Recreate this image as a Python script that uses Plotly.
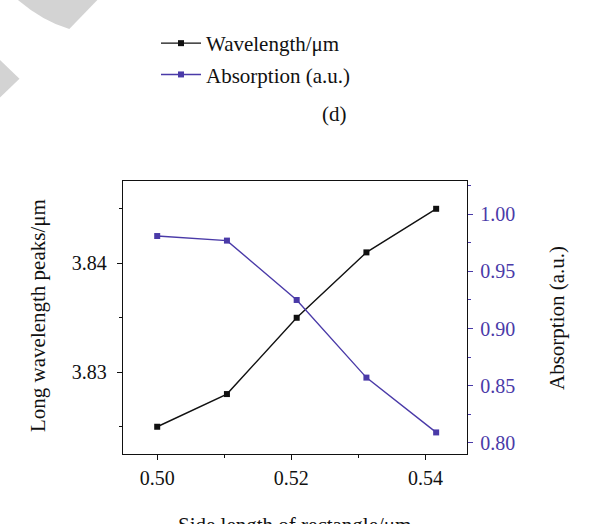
import plotly.graph_objects as go

# Side length of the rectangle (um)
side_length = [0.500, 0.5104, 0.5208, 0.5312, 0.5416]
# Long-wavelength resonance peak (um)
wavelength = [3.825, 3.828, 3.835, 3.841, 3.845]
# Absorption at the peak (a.u.)
absorption = [0.981, 0.977, 0.925, 0.857, 0.809]

W, H = 609, 524
ML, MR, MT, MB = 123, 142, 181, 70
PW, PH = W - ML - MR, H - MT - MB

FONT = "Liberation Serif"
BLACK = "#111111"
PURPLE = "#4a3aa8"


def px(x, y):
    """Pixel position on the page -> paper coordinates."""
    return (x - ML) / PW, (H - MB - y) / PH


def path(points):
    out = []
    for i, (x, y) in enumerate(points):
        u, v = px(x, y)
        out.append(("M" if i == 0 else "L") + f"{u:.4f},{v:.4f}")
    return " ".join(out) + " Z"


fig = go.Figure()

fig.add_trace(go.Scatter(
    x=side_length, y=wavelength, name="Wavelength/\u03bcm",
    mode="lines+markers", legendgroup="a",
    line=dict(color=BLACK, width=1.4),
    marker=dict(symbol="square", size=6, color=BLACK),
))
fig.add_trace(go.Scatter(
    x=side_length, y=absorption, name="Absorption (a.u.)",
    mode="lines+markers", legendgroup="b", yaxis="y2",
    line=dict(color=PURPLE, width=1.4),
    marker=dict(symbol="square", size=6, color=PURPLE),
))

# light grey corner decoration
u0, v0 = px(16.7, -1)
uc, vc = px(43, 21.5)
u1, v1 = px(69.3, 29)
u2, v2 = px(98.3, -1)
corner_a = (f"M{u0:.4f},{v0:.4f} Q{uc:.4f},{vc:.4f} {u1:.4f},{v1:.4f} "
            f"L{u2:.4f},{v2:.4f} Z")
corner_b = path([(-1, 59), (19.5, 78.7), (-1, 98.5)])
for p in (corner_a, corner_b):
    fig.add_shape(type="path", path=p, xref="paper", yref="paper",
                  fillcolor="#d3d3d3", line=dict(width=0), layer="below")

lx, ly = px(156, 23)
fig.update_layout(
    template="none",
    width=W, height=H,
    margin=dict(l=ML, r=MR, t=MT, b=MB, autoexpand=False),
    paper_bgcolor="white", plot_bgcolor="white",
    font=dict(family=FONT, size=20, color=BLACK),
    showlegend=True,
    legend=dict(x=lx, y=ly, xanchor="left", yanchor="top",
                bgcolor="rgba(0,0,0,0)", font=dict(size=21, color=BLACK),
                tracegroupgap=1, itemwidth=40),
    xaxis=dict(
        automargin=False,
        range=[0.4949, 0.5462], tickmode="linear", tick0=0.5, dtick=0.02,
        tickformat=".2f", showgrid=False, zeroline=False,
        showline=True, mirror=True, linecolor=BLACK, linewidth=1.3,
        ticks="outside", ticklen=5, tickwidth=1.2, tickcolor=BLACK,
        ticklabelstandoff=1,
        minor=dict(dtick=0.01, ticks="outside", ticklen=3, tickwidth=1.2,
                   tickcolor=BLACK, showgrid=False),
    ),
    yaxis=dict(
        automargin=False,
        range=[3.8225, 3.84755], tickmode="linear", tick0=3.83, dtick=0.01,
        tickformat=".2f", showgrid=False, zeroline=False,
        showline=True, mirror=True, linecolor=BLACK, linewidth=1.3,
        ticks="outside", ticklen=5, tickwidth=1.2, tickcolor=BLACK,
        ticklabelstandoff=6,
        minor=dict(dtick=0.005, ticks="outside", ticklen=3, tickwidth=1.2,
                   tickcolor=BLACK, showgrid=False),
    ),
    yaxis2=dict(
        automargin=False,
        overlaying="y", side="right",
        range=[0.7901, 1.0292], tickmode="linear", tick0=0.8, dtick=0.05,
        tickformat=".2f", showgrid=False, zeroline=False,
        showline=True, linecolor=BLACK, linewidth=1.3,
        ticks="outside", ticklen=5, tickwidth=1.2, tickcolor=PURPLE,
        ticklabelstandoff=3,
        tickfont=dict(color=PURPLE),
        minor=dict(dtick=0.025, ticks="outside", ticklen=3, tickwidth=1.2,
                   tickcolor=PURPLE, showgrid=False),
    ),
)


def label(text, x, y, angle=0, yanchor="middle"):
    u, v = px(x, y)
    fig.add_annotation(x=u, y=v, xref="paper", yref="paper", text=text,
                       showarrow=False, textangle=angle,
                       font=dict(size=21, color=BLACK),
                       xanchor="center", yanchor=yanchor)


# axis titles and panel tag
label("Side length of rectangle/\u03bcm", 294, 511, yanchor="top")
label("Long wavelength peaks/\u03bcm", 38, 316, angle=-90)
label("Absorption (a.u.)", 557, 318, angle=-90)
label("(d)", 334, 114)

fig.write_html("out.html")
